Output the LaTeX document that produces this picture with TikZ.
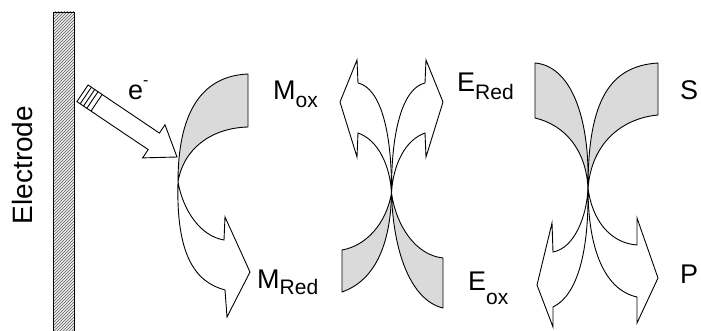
\documentclass[tikz,border=0pt]{standalone}
\usepackage{fontspec}
\setmainfont{Liberation Sans}
\usetikzlibrary{patterns}
\definecolor{BandGray}{RGB}{218,218,218}
\definecolor{HatchGray}{RGB}{100,100,100}
\newcommand{\spc}[3]{#1\raisebox{-#3pt}{\fontsize{21}{21}\selectfont #2}}
\tikzset{
	band/.style={draw=black,fill=BandGray,line width=0.9pt,line join=round},
	flow/.style={draw=black,fill=white,line width=0.9pt,line join=miter},
	lbl/.style={anchor=base west,inner sep=0pt,font=\fontsize{27}{30}\selectfont},
}

\begin{document}
\begin{tikzpicture}[x=1pt,y=-1pt]
					\useasboundingbox (0,0) rectangle (701,331);
					\fill[BandGray!60] (53,12) rectangle (74,336);
					\fill[pattern=north east lines,pattern color=HatchGray] (53,12) rectangle (74,336);
					\draw[line width=0.9pt] (53,336) -- (53,12) -- (74,12) -- (74,336);
					\node[rotate=90,anchor=base,inner sep=0pt,font=\fontsize{28}{30}\selectfont] (electrode) at (32,165) {Electrode};
					\coordinate (mj) at (178,182);
					\coordinate (ec) at (391.5,193);
					\coordinate (sc) at (588,188);
					\draw[flow] (76.9,101.6) -- (88.1,85.0) -- (159.4,133.1) -- (165.0,124.8) -- (177,157) -- (142.6,157.9) -- (148.2,149.6) -- cycle;
					\foreach \s in {110,106,102,97}
						\draw[line width=0.9pt] (177-0.829*\s+5.59,157-0.559*\s-8.29) -- (177-0.829*\s-5.59,157-0.559*\s+8.29);
					\draw[band] (mj) .. controls (178,115) and (200,76) .. (248,74) -- (248,127) .. controls (210,128) and (183,150) .. (mj);
					\draw[flow] (mj) .. controls (183,210) and (200,236) .. (224,240) -- (225,217) -- (250,272) -- (227,317) -- (225,290) .. controls (195,282) and (176,255) .. (mj);
					\draw[flow] (ec) .. controls (390,165) and (378,140) .. (358,133) -- (357,157) -- (340,102) -- (357,60) -- (358,83) .. controls (380,88) and (392,130) .. (ec);
					\draw[flow] (ec) .. controls (393,165) and (405,140) .. (425,133) -- (426,157) -- (443,102) -- (426,60) -- (425,83) .. controls (403,88) and (391,130) .. (ec);
					\draw[band] (ec) .. controls (391,230) and (382,278) .. (342,292) -- (342,250) .. controls (365,246) and (386,225) .. (ec);
					\draw[band] (ec) .. controls (396,225) and (415,255) .. (443,258) -- (443,308) .. controls (410,300) and (393,250) .. (ec);
					\draw[band] (sc) .. controls (590,115) and (570,66) .. (535,63) -- (535,118) .. controls (565,125) and (586,150) .. (sc);
					\draw[band] (sc) .. controls (588,100) and (610,66) .. (658,63) -- (658,115) .. controls (625,118) and (592,140) .. (sc);
					\draw[flow] (sc) .. controls (587,215) and (575,248) .. (553,252) -- (552,223) -- (537,285) -- (553,327) -- (553,307) .. controls (578,295) and (589,250) .. (sc);
					\draw[flow] (sc) .. controls (592,220) and (610,243) .. (637,245) -- (637,218) -- (658,278) -- (637,323) -- (637,297) .. controls (605,290) and (588,250) .. (sc);
					\node[lbl] (eminus) at (128,100) {e\raisebox{0.55em}{\fontsize{16}{16}\selectfont -}};
					\node[lbl] (mox) at (273,100) {\spc{M}{ox}{8}};
					\node[lbl] (mred) at (257,288) {\spc{M}{Red}{6}};
					\node[lbl] (ered) at (457,92) {\spc{E}{Red}{8}};
					\node[lbl] (s) at (680,100) {S};
					\node[lbl] (eox) at (468,290) {\spc{E}{ox}{14}};
					\node[lbl] (p) at (680,283) {P};
				\end{tikzpicture}
\end{document}
